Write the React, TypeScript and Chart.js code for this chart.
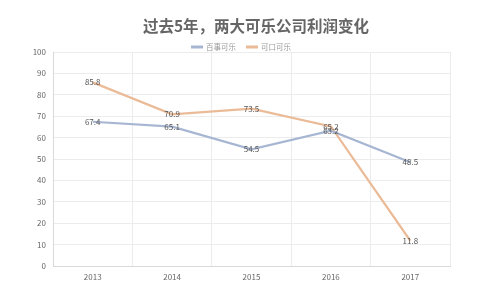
import React, { useEffect, useRef } from "react";
import { Chart, registerables } from "chart.js";

Chart.register(...registerables);

const titleText = "过去5年，两大可乐公司利润变化";
const categories = ["2013", "2014", "2015", "2016", "2017"];
const seriesNames = ["百事可乐", "可口可乐"];
const pepsiValues = [67.4, 65.1, 54.5, 63.2, 48.5];
const cokeValues = [85.8, 70.9, 73.5, 65.2, 11.8];
const yTicks = [0, 10, 20, 30, 40, 50, 60, 70, 80, 90, 100];
const seriesColors = ["#a7b6d2", "#ebbb98"];

const FONT = "'Noto Sans CJK SC', 'Open Sans', sans-serif";

const labelPlugin = {
  id: "pointLabels",
  afterDatasetsDraw(chart: any) {
    const ctx = chart.ctx;
    ctx.save();
    ctx.font = `8px ${FONT}`;
    ctx.fillStyle = "#555";
    ctx.textAlign = "center";
    ctx.textBaseline = "middle";
    chart.data.datasets.forEach((ds: any, i: number) => {
      const meta = chart.getDatasetMeta(i);
      meta.data.forEach((pt: any, j: number) => {
        ctx.fillText(String(ds.data[j]), pt.x, pt.y);
      });
    });
    ctx.restore();
  },
};

const headerPlugin = {
  id: "header",
  afterDraw(chart: any) {
    const ctx = chart.ctx;
    ctx.save();
    // title
    ctx.font = `bold 15.5px ${FONT}`;
    ctx.fillStyle = "#666";
    ctx.textAlign = "center";
    ctx.textBaseline = "middle";
    ctx.fillText(titleText, 256, 26);
    // legend
    ctx.font = `7.5px ${FONT}`;
    const lineW = 12;
    const gap = 3;
    const itemGap = 10;
    const widths = chart.data.datasets.map((ds: any) => lineW + gap + ctx.measureText(ds.label).width);
    const total = widths.reduce((a: number, b: number) => a + b, 0) + itemGap * (widths.length - 1);
    let x = 241 - total / 2;
    const y = 47;
    chart.data.datasets.forEach((ds: any, i: number) => {
      ctx.fillStyle = ds.borderColor;
      ctx.fillRect(x, y - 1.5, lineW, 3);
      ctx.fillStyle = "#999";
      ctx.textAlign = "left";
      ctx.fillText(ds.label, x + lineW + gap, y);
      x += widths[i] + itemGap;
    });
    ctx.restore();
  },
};

export default function App() {
  const ref = useRef<HTMLCanvasElement | null>(null);
  useEffect(() => {
    if (!ref.current) return;
    const chart = new Chart(ref.current, {
      type: "line",
      data: {
        labels: categories,
        datasets: seriesNames.map((name, i) => ({
          label: name,
          data: i === 0 ? pepsiValues : cokeValues,
          borderColor: seriesColors[i],
          backgroundColor: seriesColors[i],
          borderWidth: 2.2,
          pointRadius: 0,
          tension: 0,
        })),
      },
      options: {
        animation: false,
        responsive: false,
        maintainAspectRatio: false,
        layout: { padding: { left: 0, right: 50, top: 52, bottom: 0 } },
        plugins: {
          title: { display: false },
          legend: { display: false },
          tooltip: { enabled: false },
        },
        scales: {
          x: {
            offset: true,
            grid: { offset: true, color: "#ececec", drawTicks: false },
            border: { color: "#d9d9d9" },
            ticks: { color: "#666", font: { family: FONT, size: 8 }, padding: 6 },
            afterFit(scale: any) {
              scale.height = 34;
            },
          },
          y: {
            min: 0,
            max: 100,
            afterBuildTicks(scale: any) {
              scale.ticks = yTicks.map((v) => ({ value: v }));
            },
            grid: { color: "#ececec", drawTicks: false },
            border: { color: "#d9d9d9" },
            ticks: { color: "#666", font: { family: FONT, size: 8 }, padding: 7 },
            afterFit(scale: any) {
              scale.width = 53;
            },
          },
        },
      },
      plugins: [labelPlugin, headerPlugin],
    });
    return () => chart.destroy();
  }, []);
  return (
    <div style={{ position: "fixed", left: 0, top: 0, width: 500, height: 300, background: "#fff" }}>
      <canvas ref={ref} width={500} height={300} />
    </div>
  );
}
